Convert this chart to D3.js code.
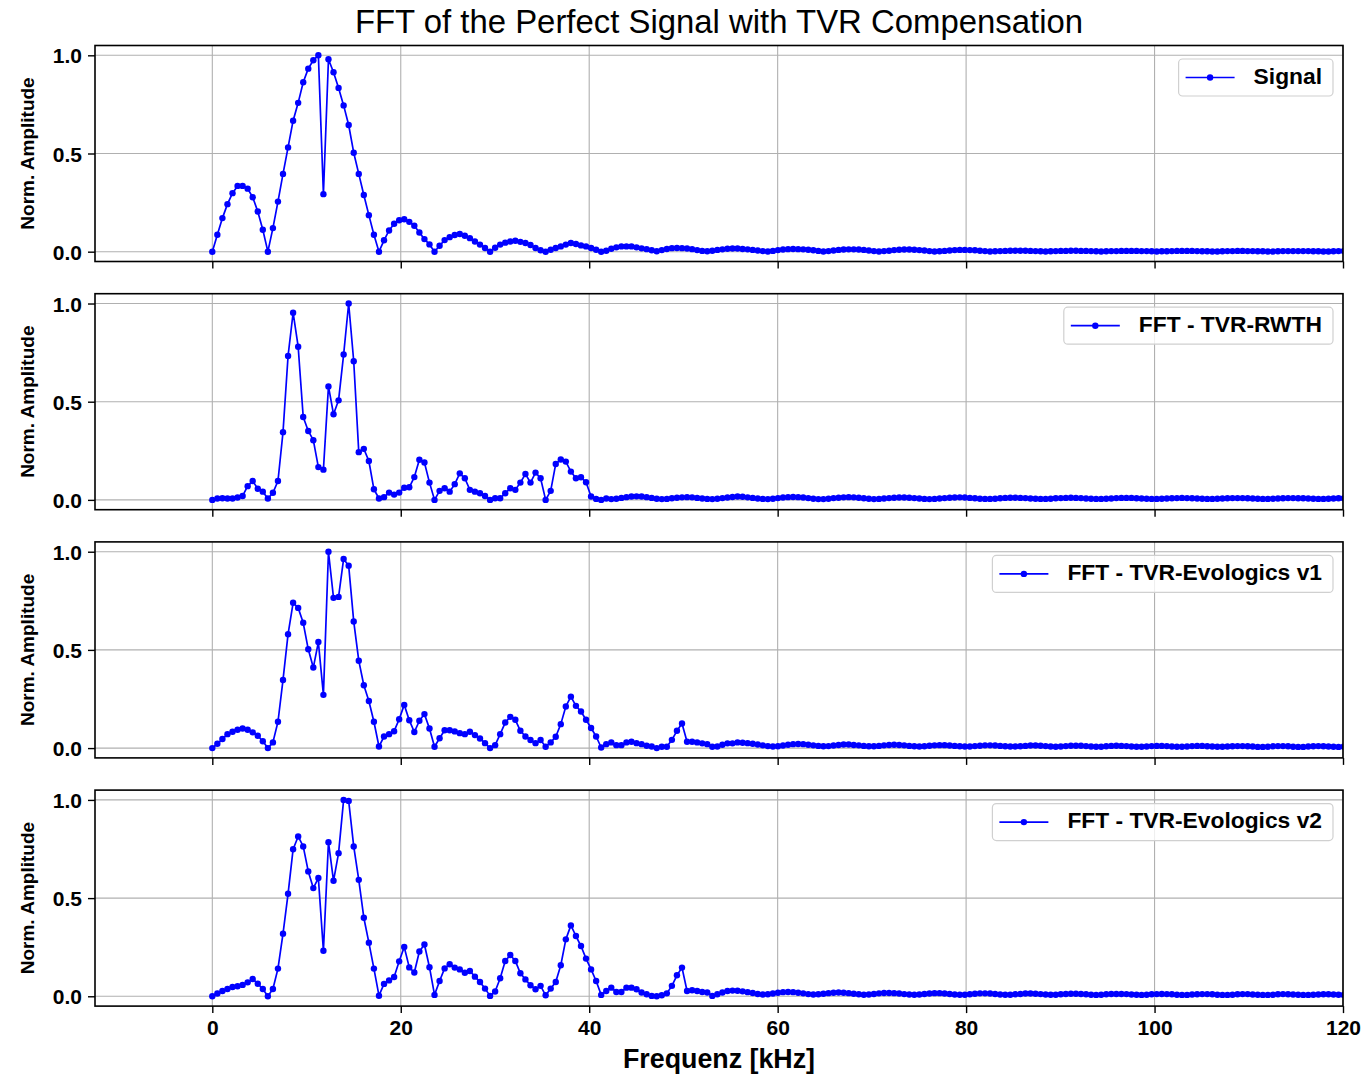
<!DOCTYPE html>
<html><head><meta charset="utf-8">
<script src="https://cdn.jsdelivr.net/npm/d3@7"></script>
<style>body{margin:0;background:#fff}svg{display:block}</style>
</head><body>
<svg id="chart" width="1366" height="1074"></svg>
<script>
// ---------- data ----------
const binWidthKHz = 0.536; // FFT bin spacing (kHz)
const titleText = "FFT of the Perfect Signal with TVR Compensation";
const xLabelText = "Frequenz [kHz]";
const yLabelText = "Norm. Amplitude";
const seriesNames = ["Signal", "FFT - TVR-RWTH", "FFT - TVR-Evologics v1", "FFT - TVR-Evologics v2"];
const xTicks = [0, 20, 40, 60, 80, 100, 120];
const yTicks = [0.0, 0.5, 1.0];
const xTickLabels = ["0", "20", "40", "60", "80", "100", "120"];
const yTickLabels = ["0.0", "0.5", "1.0"];

const signalAmp = [
0,0.086,0.171,0.242,0.298,0.335,0.335,0.321,0.277,0.205,0.112,0.0,
0.12,0.255,0.396,0.531,0.667,0.758,0.863,0.932,0.975,1.0,0.293,0.98,0.914,0.834,0.745,0.645,0.504,0.396,0.289,0.186,0.086,0.0,
0.058,0.108,0.142,0.16,0.165,0.152,0.132,0.098,0.064,0.037,0.0,
0.03,0.059,0.074,0.085,0.09,0.081,0.069,0.052,0.036,0.019,0.0,
0.02,0.036,0.046,0.052,0.056,0.05,0.044,0.034,0.019,0.007,0.0,
0.01,0.019,0.027,0.036,0.044,0.039,0.032,0.027,0.019,0.01,0.0,
0.005,0.015,0.022,0.027,0.027,0.027,0.022,0.017,0.013,0.007,0.002,
0.008,0.014,0.018,0.019,0.018,0.016,0.013,0.008,0.004,0.002,
0.005,0.009,0.012,0.015,0.016,0.016,0.014,0.012,0.009,0.006,0.003,0.001,
0.004,0.008,0.011,0.013,0.014,0.013,0.012,0.01,0.007,0.004,0.001,
0.003,0.006,0.009,0.011,0.012,0.012,0.011,0.009,0.006,0.003,0.001,
0.003,0.005,0.008,0.01,0.011,0.011,0.01,0.008,0.006,0.003,0.001,
0.002,0.004,0.006,0.008,0.009,0.009,0.008,0.007,0.005,0.003,0.001,
0.002,0.003,0.004,0.005,0.005,0.005,0.005,0.004,0.003,0.002,0.001,
0.002,0.003,0.004,0.004,0.005,0.005,0.004,0.004,0.003,0.002,0.001,
0.002,0.003,0.003,0.004,0.004,0.004,0.004,0.003,0.003,0.002,0.001,
0.002,0.002,0.003,0.004,0.004,0.004,0.004,0.003,0.002,0.002,0.001,
0.001,0.002,0.003,0.003,0.004,0.004,0.003,0.003,0.002,0.002,0.001,
0.001,0.002,0.003,0.003,0.003,0.003,0.003,0.003,0.002,0.002,0.001,
0.001,0.002,0.003,0.003
];

const rwthAmp = [
0,0.007,0.008,0.007,0.007,0.012,0.02,0.07,0.096,0.057,0.042,0.007,
0.036,0.096,0.345,0.733,0.953,0.78,0.422,0.351,0.304,0.167,0.154,0.578,0.436,0.507,0.74,1.0,0.706,0.243,0.26,0.198,0.054,0.007,
0.014,0.037,0.027,0.037,0.062,0.064,0.116,0.204,0.19,0.088,
0.0,0.046,0.059,0.042,0.08,0.135,0.11,0.051,0.042,0.034,0.02,0.0,
0.008,0.008,0.034,0.059,0.051,0.088,0.132,0.088,0.139,0.11,0.0,
0.046,0.183,0.206,0.195,0.144,0.11,0.115,0.09,0.017,0.005,0.0,0.007,
0.004,0.006,0.01,0.014,0.017,0.018,0.017,0.014,0.01,0.006,
0.004,0.005,0.008,0.011,0.013,0.014,0.013,0.01,0.007,0.005,0.004,
0.006,0.009,0.012,0.015,0.017,0.016,0.013,0.01,0.007,0.005,0.004,
0.006,0.009,0.012,0.014,0.015,0.014,0.012,0.009,0.006,0.004,0.004,
0.006,0.009,0.011,0.013,0.014,0.013,0.011,0.008,0.006,0.004,0.005,
0.007,0.009,0.011,0.012,0.012,0.011,0.009,0.007,0.005,0.004,0.005,
0.007,0.009,0.011,0.012,0.013,0.012,0.01,0.008,0.006,0.005,0.005,
0.006,0.008,0.01,0.011,0.011,0.01,0.009,0.007,0.006,0.005,0.005,
0.006,0.008,0.009,0.01,0.011,0.01,0.009,0.007,0.006,0.005,0.005,
0.006,0.007,0.009,0.01,0.01,0.01,0.008,0.007,0.006,0.005,0.005,
0.006,0.007,0.008,0.009,0.01,0.009,0.008,0.007,0.006,0.005,0.005,
0.006,0.007,0.008,0.009,0.009,0.009,0.008,0.007,0.006,0.005,0.005,
0.006,0.007,0.008,0.009,0.009,0.008,0.008,0.007,0.006,0.005,0.005,0.006,0.007,0.008,0.008
];

const evoV1Amp = [
0,0.022,0.046,0.071,0.083,0.093,0.1,0.093,0.08,0.063,0.035,0.0,
0.029,0.134,0.347,0.58,0.74,0.714,0.638,0.503,0.41,0.54,0.271,1.0,0.765,0.77,0.963,0.929,0.645,0.445,0.32,0.24,0.134,0.008,
0.059,0.071,0.086,0.147,0.22,0.142,0.082,0.139,0.173,0.1,
0.007,0.05,0.091,0.091,0.085,0.076,0.071,0.083,0.066,0.049,0.025,0.0,
0.015,0.071,0.13,0.159,0.144,0.088,0.059,0.041,0.025,0.041,0.007,
0.029,0.058,0.122,0.212,0.262,0.215,0.186,0.144,0.102,0.059,0.003,
0.02,0.029,0.015,0.015,0.029,0.032,0.025,0.02,0.012,0.008,0.0,
0.007,0.007,0.042,0.088,0.125,0.032,0.032,0.029,0.024,0.02,0.007,
0.008,0.017,0.024,0.024,0.029,
0.027,0.025,0.022,0.018,0.014,0.01,0.008,0.009,0.013,0.017,0.02,
0.021,0.02,0.017,0.014,0.011,0.009,0.01,0.013,0.016,0.018,0.018,
0.016,0.014,0.011,0.009,0.009,0.011,0.014,0.016,0.017,0.016,0.014,
0.011,0.009,0.008,0.009,0.012,0.014,0.015,0.015,0.013,0.011,0.009,
0.008,0.008,0.01,0.012,0.014,0.014,0.013,0.011,0.009,0.008,0.008,
0.009,0.011,0.013,0.013,0.012,0.01,0.008,0.007,0.008,0.01,0.012,
0.012,0.012,0.01,0.008,0.007,0.007,0.009,0.011,0.012,0.011,0.01,
0.008,0.007,0.007,0.008,0.01,0.011,0.011,0.01,0.008,0.007,0.007,
0.008,0.01,0.011,0.011,0.009,0.008,0.007,0.007,0.008,0.009,0.01,
0.01,0.009,0.008,0.006,0.006,0.007,0.009,0.01,0.01,0.009,0.007,
0.006,0.006,0.008,0.009,0.01,0.009,0.008,0.007,0.006,0.007
];

const evoV2Amp = [
0,0.014,0.027,0.037,0.047,0.051,0.058,0.071,0.088,0.064,0.037,0.0,
0.037,0.141,0.319,0.522,0.749,0.814,0.763,0.636,0.551,0.602,0.232,0.785,0.588,0.729,1.0,0.995,0.763,0.593,0.4,0.273,0.141,0.003,
0.063,0.081,0.098,0.178,0.251,0.147,0.121,0.228,0.264,0.148,
0.007,0.078,0.142,0.163,0.146,0.137,0.12,0.129,0.1,0.073,0.039,0.002,
0.024,0.092,0.18,0.21,0.18,0.117,0.086,0.056,0.036,0.053,0.005,
0.039,0.073,0.158,0.29,0.361,0.307,0.256,0.192,0.137,0.078,0.007,
0.027,0.044,0.022,0.022,0.044,0.044,0.036,0.019,0.01,0.002,0.0,
0.005,0.015,0.053,0.107,0.146,0.027,0.031,0.027,0.022,0.019,0.002,
0.01,0.019,0.027,
0.029,0.028,0.025,0.021,0.017,0.012,0.009,0.01,0.014,0.018,0.021,
0.022,0.021,0.018,0.015,0.011,0.009,0.01,0.013,0.016,0.018,0.019,
0.018,0.016,0.013,0.01,0.008,0.009,0.012,0.015,0.017,0.017,0.016,
0.014,0.011,0.009,0.008,0.009,0.012,0.014,0.016,0.016,0.014,0.012,
0.009,0.008,0.008,0.01,0.013,0.015,0.015,0.014,0.012,0.009,0.008,
0.008,0.01,0.012,0.014,0.014,0.013,0.011,0.009,0.008,0.008,0.01,
0.012,0.013,0.013,0.012,0.01,0.008,0.007,0.008,0.01,0.012,0.012,
0.012,0.011,0.009,0.008,0.007,0.008,0.01,0.011,0.012,0.011,0.01,
0.008,0.007,0.007,0.009,0.01,0.011,0.011,0.01,0.008,0.007,0.007,
0.008,0.01,0.011,0.011,0.009,0.008,0.007,0.007,0.008,0.01,0.011,
0.01,0.009,0.008,0.007,0.007,0.008,0.009,0.01,0.01,0.009,0.008,0.007
];

const allSeries = [signalAmp, rwthAmp, evoV1Amp, evoV2Amp];

// ---------- layout ----------
const FONT = "'Liberation Sans', Arial, Helvetica, sans-serif";
const LINE_COLOR = "#0000ff";
const plotLeft = 95, plotRight = 1343;
const panelTops = [45.5, 293.7, 541.9, 790.1];
const panelHeight = 216;

const svg = d3.select("#chart");
svg.append("rect").attr("width", 1366).attr("height", 1074).attr("fill", "#fff");

const x = d3.scaleLinear().domain([-12.45, 120]).range([plotLeft, plotRight]);

svg.append("text")
  .attr("x", (plotLeft + plotRight) / 2).attr("y", 33)
  .attr("text-anchor", "middle")
  .attr("font-family", FONT).attr("font-size", 32.9)
  .attr("fill", "#000")
  .text(titleText);

allSeries.forEach((vals, pi) => {
  const top = panelTops[pi];
  const bottom = top + panelHeight;
  const y = d3.scaleLinear().domain([-0.05, 1.05]).range([bottom, top]);
  const g = svg.append("g");

  const clipId = "clip" + pi;
  svg.append("defs").append("clipPath").attr("id", clipId)
    .append("rect").attr("x", plotLeft).attr("y", top)
    .attr("width", plotRight - plotLeft).attr("height", panelHeight);

  // grid
  g.append("g").selectAll("line").data(xTicks).join("line")
    .attr("x1", d => x(d)).attr("x2", d => x(d))
    .attr("y1", top).attr("y2", bottom)
    .attr("stroke", "#b0b0b0").attr("stroke-width", 1.1);
  g.append("g").selectAll("line").data(yTicks).join("line")
    .attr("x1", plotLeft).attr("x2", plotRight)
    .attr("y1", d => y(d)).attr("y2", d => y(d))
    .attr("stroke", "#b0b0b0").attr("stroke-width", 1.1);

  // data
  const pts = vals.map((v, i) => [i * binWidthKHz, v]);
  const dg = g.append("g").attr("clip-path", `url(#${clipId})`);
  dg.append("path")
    .attr("d", d3.line().x(d => x(d[0])).y(d => y(d[1]))(pts))
    .attr("fill", "none").attr("stroke", LINE_COLOR).attr("stroke-width", 1.7)
    .attr("stroke-linejoin", "round");
  dg.append("g").selectAll("circle").data(pts).join("circle")
    .attr("cx", d => x(d[0])).attr("cy", d => y(d[1])).attr("r", 3.2)
    .attr("fill", LINE_COLOR);

  // axes
  const yAxis = d3.axisLeft(y).tickValues(yTicks).tickSize(7).tickPadding(6)
    .tickFormat((d, i) => yTickLabels[i]);
  const ya = g.append("g").attr("transform", `translate(${plotLeft},0)`).call(yAxis);
  ya.select(".domain").remove();
  ya.selectAll(".tick line").attr("stroke", "#000").attr("stroke-width", 1.4);
  ya.selectAll(".tick text").attr("font-family", FONT).attr("font-size", 21)
    .attr("font-weight", "bold").attr("fill", "#000").attr("dy", "0.36em");

  const xAxis = d3.axisBottom(x).tickValues(xTicks).tickSize(7).tickPadding(7)
    .tickFormat((d, i) => pi === 3 ? xTickLabels[i] : "");
  const xa = g.append("g").attr("transform", `translate(0,${bottom})`).call(xAxis);
  xa.select(".domain").remove();
  xa.selectAll(".tick line").attr("stroke", "#000").attr("stroke-width", 1.4);
  xa.selectAll(".tick text").attr("font-family", FONT).attr("font-size", 21)
    .attr("font-weight", "bold").attr("fill", "#000");

  // frame
  g.append("rect").attr("x", plotLeft).attr("y", top)
    .attr("width", plotRight - plotLeft).attr("height", panelHeight)
    .attr("fill", "none").attr("stroke", "#000").attr("stroke-width", 1.6);

  // y label
  g.append("text")
    .attr("transform", `translate(34,${(top + bottom) / 2}) rotate(-90)`)
    .attr("text-anchor", "middle")
    .attr("font-family", FONT).attr("font-size", 19).attr("font-weight", "bold")
    .attr("fill", "#000").text(yLabelText);

  // legend
  const lg = g.append("g");
  const lt = lg.append("text").attr("font-family", FONT).attr("font-size", 22.8)
    .attr("font-weight", "bold").attr("fill", "#000").text(seriesNames[pi]);
  const tw = lt.node().getComputedTextLength();
  const boxW = 75 + tw + 11, boxH = 37;
  const boxR = plotRight - 10, boxT = top + 13.5;
  const boxL = boxR - boxW;
  lg.insert("rect", "text").attr("x", boxL).attr("y", boxT).attr("width", boxW).attr("height", boxH)
    .attr("rx", 4).attr("fill", "#fff").attr("fill-opacity", 0.8)
    .attr("stroke", "#d0d0d0").attr("stroke-width", 1.2);
  const cy = boxT + boxH / 2;
  lg.append("line").attr("x1", boxL + 7).attr("x2", boxL + 56).attr("y1", cy).attr("y2", cy)
    .attr("stroke", LINE_COLOR).attr("stroke-width", 1.7);
  lg.append("circle").attr("cx", boxL + 31.5).attr("cy", cy).attr("r", 3.2).attr("fill", LINE_COLOR);
  lt.attr("x", boxL + 75).attr("y", cy + 6);
});

svg.append("text")
  .attr("x", (plotLeft + plotRight) / 2).attr("y", 1068)
  .attr("text-anchor", "middle")
  .attr("font-family", FONT).attr("font-size", 26.8).attr("font-weight", "bold")
  .attr("fill", "#000").text(xLabelText);
</script>
</body></html>
